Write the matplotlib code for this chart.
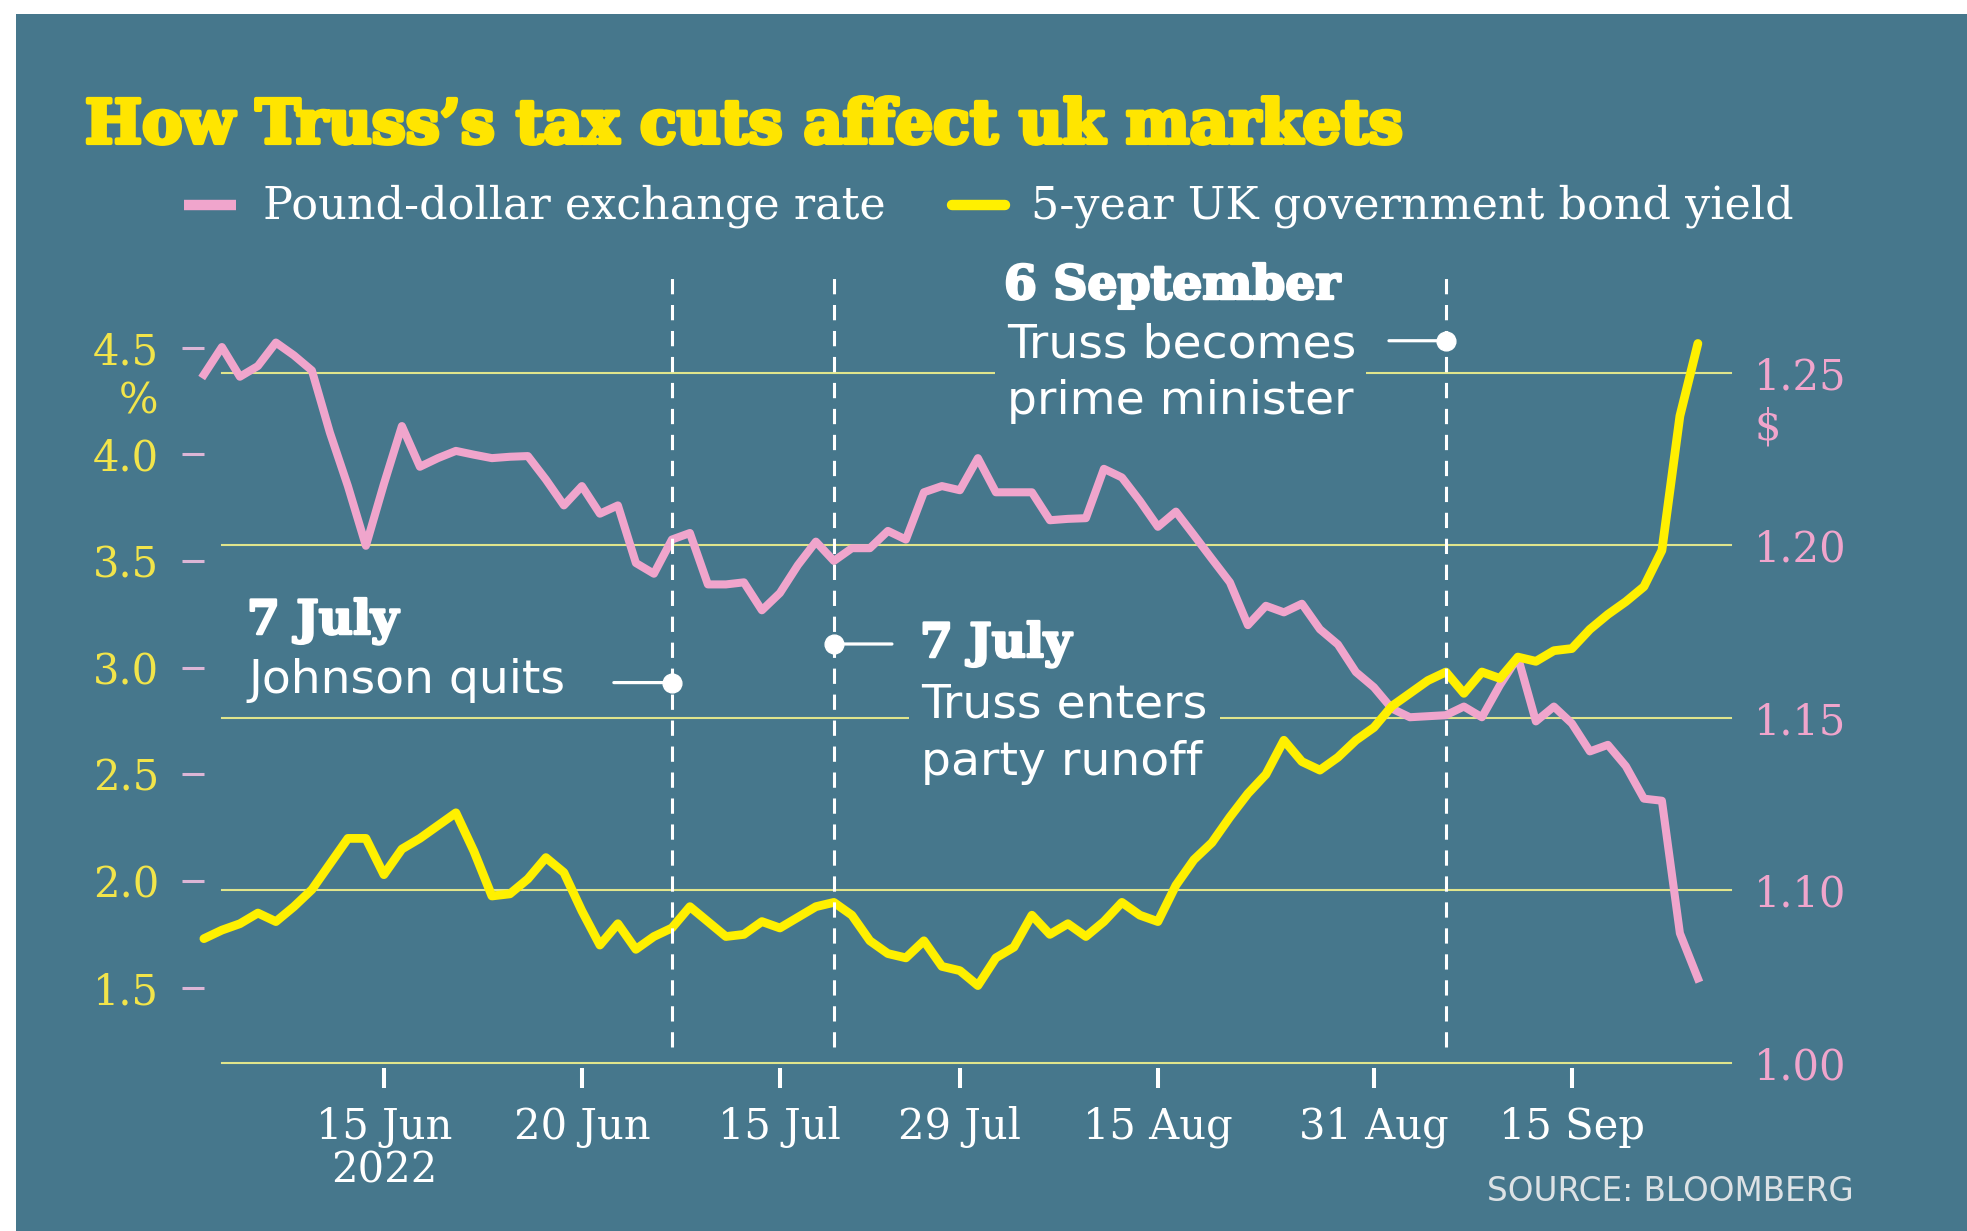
import numpy as np
import pandas as pd
import matplotlib
matplotlib.use("Agg")
import matplotlib.pyplot as plt
from matplotlib.patches import Rectangle
from matplotlib.lines import Line2D
from matplotlib import patheffects as pe
from matplotlib.transforms import blended_transform_factory

W, H = 1967, 1231

BG = "#46778c"
TITLE_YEL = "#ffe500"
LINE_YEL = "#fff000"
TICK_YEL = "#f2e44a"
PINK = "#f0a5cc"
TICK_PINK = "#dcb6d6"
GRID = "#e0e58c"

# ---- data: daily closes, 1 Jun - 26 Sep 2022 (trading days) ----
dates = pd.bdate_range("2022-06-01", "2022-09-26")

gbp_usd = [
    1.2494, 1.2574, 1.2488, 1.2519, 1.2587, 1.2550, 1.2506, 1.2326, 1.2171, 1.1998,
    1.2177, 1.2345, 1.2227, 1.2252, 1.2273, 1.2262, 1.2252, 1.2256, 1.2258, 1.2190,
    1.2115, 1.2171, 1.2091, 1.2115, 1.1948, 1.1917, 1.2016, 1.2035, 1.1886, 1.1886,
    1.1892, 1.1811, 1.1861, 1.1942, 1.2010, 1.1954, 1.1991, 1.1991, 1.2041, 1.2016,
    1.2153, 1.2171, 1.2159, 1.2252, 1.2153, 1.2153, 1.2153, 1.2072, 1.2076, 1.2078,
    1.2221, 1.2196, 1.2128, 1.2053, 1.2097, 1.2029, 1.1960, 1.1892, 1.1768, 1.1824,
    1.1805, 1.1830, 1.1756, 1.1712, 1.1632, 1.1588, 1.1526, 1.1501, 1.1504, 1.1507,
    1.1532, 1.1501, 1.1594, 1.1675, 1.1489, 1.1532, 1.1483, 1.1402, 1.1421, 1.1359,
    1.1265, 1.1259, 1.0875, 1.0744,
]

gilt_5y = [
    1.73, 1.77, 1.80, 1.85, 1.81, 1.88, 1.96, 2.08, 2.20, 2.20,
    2.03, 2.15, 2.20, 2.26, 2.32, 2.14, 1.93, 1.94, 2.01, 2.11,
    2.04, 1.86, 1.70, 1.80, 1.68, 1.74, 1.78, 1.88, 1.81, 1.74,
    1.75, 1.81, 1.78, 1.83, 1.88, 1.90, 1.84, 1.72, 1.66, 1.64,
    1.72, 1.60, 1.58, 1.51, 1.64, 1.69, 1.84, 1.75, 1.80, 1.74,
    1.81, 1.90, 1.84, 1.81, 1.98, 2.10, 2.18, 2.30, 2.41, 2.50,
    2.66, 2.56, 2.52, 2.58, 2.66, 2.72, 2.82, 2.88, 2.94, 2.98,
    2.88, 2.98, 2.95, 3.05, 3.03, 3.08, 3.09, 3.18, 3.25, 3.31,
    3.38, 3.55, 4.18, 4.52,
]

tick_dates = ["2022-06-15", "2022-06-30", "2022-07-15", "2022-07-29",
              "2022-08-15", "2022-08-31", "2022-09-15"]
tick_labels = ["15 Jun\n2022", "20 Jun", "15 Jul", "29 Jul",
               "15 Aug", "31 Aug", "15 Sep"]

yield_ticks = [1.5, 2.0, 2.5, 3.0, 3.5, 4.0, 4.5]
fx_ticks = [1.05, 1.10, 1.15, 1.20, 1.25]
fx_labels = ["1.00", "1.10", "1.15", "1.20", "1.25"]

# Johnson quits, Truss in the runoff, Truss becomes PM
event_dates = ["2022-07-07", "2022-07-20", "2022-09-06"]

x = np.arange(len(dates))
tick_pos = dates.get_indexer(pd.to_datetime(tick_dates))
event_pos = dates.get_indexer(pd.to_datetime(event_dates))

plt.rcParams["font.family"] = ["DejaVu Serif"]

fig = plt.figure(figsize=(W / 100, H / 100), dpi=100, facecolor="white")
fig.add_artist(Rectangle((16 / W, 0), 1 - 16 / W, 1 - 14 / H,
                         transform=fig.transFigure, facecolor=BG,
                         edgecolor="none", zorder=-10))


def fx_px(px):
    return px / W


def fy_px(py):
    return 1 - py / H


# axes: pound on the base axes (grid lives there), yield on the twin
ax = fig.add_axes([203.9 / W, 1 - 1062.6 / H, 1494 / W, 736.6 / H])
ax2 = ax.twinx()
for a in (ax, ax2):
    a.set_facecolor("none")
    for s in a.spines.values():
        s.set_visible(False)

ax.set_xlim(0, len(x) - 1)
ax.set_ylim(1.05, 1.2635)
ax2.set_ylim(1.149, 4.602)

# horizontal guide lines
for v in fx_ticks:
    ax.axhline(v, xmin=0.0121, xmax=1.022, color=GRID, lw=1.5,
               zorder=1, clip_on=False)

ax.plot(x, gbp_usd, color=PINK, lw=5.8, solid_joinstyle="round",
        zorder=3, clip_on=False)
ax2.plot(x, gilt_5y, color=LINE_YEL, lw=6.3, solid_joinstyle="round",
         solid_capstyle="round", zorder=3, clip_on=False)

# x axis
ax.spines["bottom"].set_position(("outward", 3.6))
ax.set_xticks(tick_pos, tick_labels)
ax.tick_params(axis="x", direction="out", length=14.4, width=2.9,
               color="white", pad=13, labelsize=30, labelcolor="white")
for lbl in ax.get_xticklabels():
    lbl.set_linespacing(1.05)

# right axis: pound
ax.yaxis.tick_right()
ax.set_yticks(fx_ticks, fx_labels)
ax.tick_params(axis="y", left=False, right=True, labelleft=False,
               labelright=True, length=0, pad=40, labelsize=30,
               labelcolor=PINK)

# left axis: yield
ax2.yaxis.tick_left()
ax2.set_yticks(yield_ticks, [f"{v:.1f}" for v in yield_ticks])
ax2.tick_params(axis="y", left=True, right=False, labelleft=True,
                labelright=False, direction="out", length=15.8, width=2.2,
                color=TICK_PINK, pad=16.5, labelsize=30, labelcolor=TICK_YEL)

fig.text(fx_px(158), fy_px(401), "%", ha="right", va="center",
         fontsize=30, color=TICK_YEL)
fig.text(fx_px(1754), fy_px(428), "$", ha="left", va="center",
         fontsize=30, color=PINK)

# event markers
tr = blended_transform_factory(ax2.transData, ax2.transAxes)
for pos in event_pos:
    ln = ax2.axvline(pos, ymin=0.0205, ymax=1.0645, color="white", lw=2.2,
                     zorder=5, clip_on=False)
    ln.set_dashes((5, 3.5))

dot_y = [0.5159, 0.5683, 0.9800]
stub = [-41.8, 41.8, -41.0]
for pos, yy, st in zip(event_pos, dot_y, stub):
    ax2.annotate("", xy=(pos, yy), xycoords=tr, xytext=(st, 0),
                 textcoords="offset points", zorder=6,
                 arrowprops=dict(arrowstyle="-", color="white", lw=2.3,
                                 shrinkA=0, shrinkB=0))
    ax2.plot(pos, yy, "o", transform=tr, ms=13.5, color="white",
             zorder=7, clip_on=False)

head_kw = dict(fontsize=34, fontweight="bold", color="white", va="baseline",
               path_effects=[pe.withStroke(linewidth=1.8, foreground="white")])
body_kw = dict(fontsize=34, color="white", va="baseline",
               family=["DejaVu Sans"])
hide = dict(boxstyle="square,pad=0.26", facecolor=BG, edgecolor="none")

fig.text(fx_px(247), fy_px(634), "7 July", **head_kw)
fig.text(fx_px(248), fy_px(693), "Johnson quits", **body_kw)

fig.text(fx_px(920), fy_px(657), "7 July", **head_kw)
fig.text(fx_px(921), fy_px(718), "Truss enters", bbox=hide, **body_kw)
fig.text(fx_px(921), fy_px(775), "party runoff", **body_kw)

fig.text(fx_px(1004), fy_px(299), "6 September", **head_kw)
fig.text(fx_px(1007), fy_px(358), "Truss becomes", **body_kw)
fig.text(fx_px(1007), fy_px(414), "prime minister", bbox=hide, **body_kw)

# title and legend
fig.text(fx_px(85), fy_px(143), "How Truss\u2019s tax cuts affect uk markets",
         fontsize=43.5, fontweight="bold", color=TITLE_YEL, va="baseline",
         path_effects=[pe.withStroke(linewidth=3, foreground=TITLE_YEL)])

fig.add_artist(Line2D([fx_px(184), fx_px(236)], [fy_px(205)] * 2,
                      lw=7.5, color=PINK, solid_capstyle="butt"))
fig.text(fx_px(263), fy_px(218), "Pound-dollar exchange rate",
         fontsize=32, color="white", va="baseline")
fig.add_artist(Line2D([fx_px(952), fx_px(1005)], [fy_px(205)] * 2,
                      lw=7.5, color=LINE_YEL, solid_capstyle="round"))
fig.text(fx_px(1031), fy_px(218), "5-year UK government bond yield",
         fontsize=32, color="white", va="baseline")

fig.text(fx_px(1854), fy_px(1201), "SOURCE: BLOOMBERG", ha="right",
         va="baseline", fontsize=23.5, color="#dde2e5",
         family=["DejaVu Sans"])

fig.savefig("out.png", dpi=100, facecolor=fig.get_facecolor())
